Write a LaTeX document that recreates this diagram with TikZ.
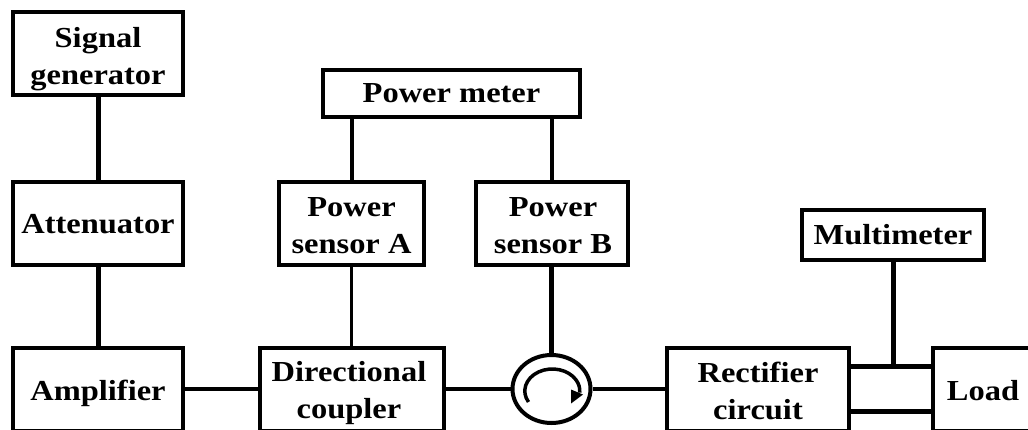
\documentclass[tikz,border=0pt]{standalone}
\usepackage{fontspec}
\setmainfont{Liberation Serif}[FakeStretch=1.12]
\usetikzlibrary{shapes.geometric}
\newcommand{\dropby}[2]{\raisebox{-#1}[\height][\depth]{#2}}
\newcommand{\twolines}[2]{\begin{tabular}{@{}c@{}}#1\\#2\end{tabular}}
\tikzset{
  x=1pt,y=1pt,
  blockbox/.style={draw=black,line width=4pt,fill=white,rectangle,inner sep=0pt,
    font=\fontsize{29}{37}\selectfont\bfseries},
  thinline/.style={draw=black,line width=3.2pt},
  midline/.style={draw=black,line width=4pt},
  thickline/.style={draw=black,line width=5pt},
  circulator/.style={draw=black,line width=4pt,ellipse,inner sep=0pt,minimum width=78pt,minimum height=68pt,fill=white},
}
\begin{document}
\begin{tikzpicture}
\useasboundingbox (0,0) rectangle (1028,-429);
\clip (0,0) rectangle (1028,-429);
\node[blockbox,minimum width=170pt,minimum height=83pt] (sg) at (98,-53.5) {\dropby{5.5pt}{\twolines{Signal}{generator}}};
\node[blockbox,minimum width=170pt,minimum height=83pt] (att) at (98,-223.5) {\dropby{1pt}{Attenuator}};
\node[blockbox,minimum width=170pt,minimum height=83pt] (amp) at (98,-389) {\dropby{4pt}{Amplifier}};
\node[blockbox,minimum width=184pt,minimum height=83pt] (dc) at (351.5,-389) {\hspace*{-5pt}\dropby{4pt}{\twolines{Directional}{coupler}}};
\node[blockbox,minimum width=257pt,minimum height=47pt] (pm) at (451.5,-93.5) {Power meter};
\node[blockbox,minimum width=145pt,minimum height=83pt] (sa) at (351.5,-223.5) {\dropby{4pt}{\twolines{Power}{sensor A}}};
\node[blockbox,minimum width=152pt,minimum height=83pt] (sb) at (551.5,-223.5) {\hspace*{3pt}\dropby{4pt}{\twolines{Power}{sensor B}}};
\node[blockbox,minimum width=182pt,minimum height=50pt] (mm) at (893,-235) {Multimeter};
\node[blockbox,minimum width=182pt,minimum height=83pt] (rc) at (758,-389) {\dropby{4.5pt}{\twolines{Rectifier}{circuit}}};
\node[blockbox,minimum width=100pt,minimum height=83pt] (load) at (983,-389) {\dropby{2pt}{Load}};
\node[circulator] (circ) at (551.5,-389) {};
\coordinate (tap) at (mm.south |- 0,-366);
\coordinate (rt) at (rc.east |- 0,-366);
\coordinate (lt) at (load.west |- 0,-366);
\coordinate (rb) at (rc.east |- 0,-411);
\coordinate (lb) at (load.west |- 0,-411);
\draw[thickline] (sg) -- (att);
\draw[thickline] (att) -- (amp);
\draw[thinline] (amp) -- (dc);
\draw[thinline] (dc) -- (circ);
\draw[thinline] (circ) -- (rc);
\draw[thinline] (sa) -- (dc);
\draw[thickline] (sb.south) -- (circ.north);
\draw[midline] (pm.south -| sa.north) -- (sa.north);
\draw[midline] (pm.south -| sb.north) -- (sb.north);
\draw[thickline] (mm.south) -- (tap);
\draw[thickline] (rt) -- (lt);
\draw[thickline] (rb) -- (lb);
\draw[line width=3.5pt] (528.5,-402) arc[start angle=210,end angle=-4,x radius=27.5pt,y radius=22pt];
\fill (571,-403.5) -- (583,-394.5) -- (571,-389.5) -- cycle;
\end{tikzpicture}
\end{document}
